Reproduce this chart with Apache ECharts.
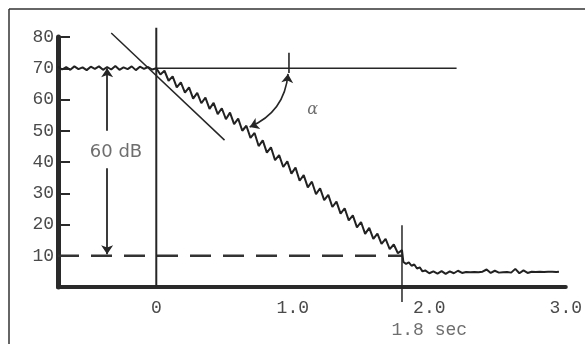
<!DOCTYPE html>
<html><head><meta charset="utf-8">
<script src="https://cdn.jsdelivr.net/npm/echarts@6/dist/echarts.min.js"></script>
<style>html,body{margin:0;padding:0;background:#fff}#c{width:585px;height:344px}</style>
</head><body><div id="c"></div>
<script>
// ---- data (time in seconds, level in dB) ----
const yTickValues = [10, 20, 30, 40, 50, 60, 70, 80];
const xTickValues = [0, 1, 2, 3];

const levelBefore = [
  [-0.72,70.5],[-0.69,69.6],[-0.66,70.4],[-0.63,69.5],[-0.60,70.6],[-0.57,69.7],[-0.54,70.3],
  [-0.51,69.4],[-0.48,70.5],[-0.45,69.8],[-0.42,70.6],[-0.39,69.5],[-0.36,70.4],[-0.33,69.6],
  [-0.30,70.7],[-0.27,69.5],[-0.24,70.3],[-0.21,69.7],[-0.18,70.6],[-0.15,69.4],[-0.12,70.5],
  [-0.09,69.8],[-0.06,70.4],[-0.03,69.6],[0.00,70.0]
];
const levelDecay = [
  [0.03,68.0],[0.06,69.2],[0.09,66.0],[0.12,67.4],[0.15,63.9],[0.18,65.5],[0.21,62.2],[0.24,63.9],
  [0.27,60.3],[0.30,62.1],[0.33,58.8],[0.36,60.6],[0.39,57.0],[0.42,58.9],[0.45,55.3],[0.48,57.2],
  [0.51,53.7],[0.54,55.8],[0.57,52.1],[0.60,53.9],[0.63,50.0],[0.66,51.6],[0.69,47.7],[0.72,49.3],
  [0.75,45.1],[0.78,46.9],[0.81,43.0],[0.84,44.7],[0.87,40.6],[0.90,42.2],[0.93,38.4],[0.96,40.2],
  [0.99,36.3],[1.02,38.2],[1.05,34.0],[1.08,35.8],[1.11,31.9],[1.14,33.7],[1.17,29.7],[1.20,31.6],
  [1.23,27.8],[1.26,29.5],[1.29,25.6],[1.32,27.3],[1.35,23.5],[1.38,25.2],[1.41,21.3],[1.44,22.9],
  [1.47,19.1],[1.50,20.8],[1.53,17.0],[1.56,18.9],[1.59,15.4],[1.62,17.1],[1.65,13.8],[1.68,15.4],
  [1.71,12.1],[1.74,13.6],[1.77,10.8],[1.80,11.8]
];
const levelFloor = [
  [1.81,8.0],[1.83,7.4],[1.85,7.9],[1.87,6.8],[1.89,7.2],[1.91,5.9],[1.93,6.3],[1.95,5.0],
  [1.97,5.3],[2.00,4.4],[2.03,5.0],[2.06,4.3],[2.09,5.1],[2.12,4.2],[2.15,5.0],[2.18,4.4],
  [2.21,5.2],[2.24,4.5],[2.27,4.8],[2.30,4.7],[2.33,4.8],[2.36,4.7],[2.39,4.9],[2.42,5.6],
  [2.45,4.5],[2.48,5.2],[2.51,4.6],[2.54,4.7],[2.57,4.8],[2.60,4.6],[2.63,5.8],[2.66,4.4],
  [2.69,5.3],[2.72,4.5],[2.75,4.9],[2.78,4.8],[2.81,4.9],[2.84,4.8],[2.87,4.9],[2.90,4.9],
  [2.93,4.8],[2.95,4.9]
];

const startLevel = 70;        // dB
const endLevel = 10;          // dB (60 dB below)
const decayEnd = 1.8;         // sec
const refLineEnd = 2.2;       // sec, end of 70 dB reference line
const zeroLineTop = 83;       // dB
const decayLineSpan = [19.8, -4.8];
const tangentLine = [[-0.33, 81.3], [0.50, 47.0]];
const arcEnds = [[0.684, 51.2], [0.965, 68.2]];
const arcTick = [[0.972, 68.5], [0.972, 75.0]];
const dbArrowTime = -0.36;
const dbArrowUpper = [50, 70];
const dbArrowLower = [38, 10.5];
const annotations = [
  { name: '60 dB', value: [-0.295, 43.2], font: 'DejaVu Sans', size: 18, style: 'normal' },
  { name: 'α', value: [1.145, 56.6], font: 'DejaVu Serif', size: 16, style: 'italic' },
  { name: '1.8 sec', value: [2.0, -13.8], font: 'Liberation Mono', size: 18, style: 'normal' }
];

// ---- chart ----
const ink = '#262626';
const textGray = '#4a4a4a';
const chart = echarts.init(document.getElementById('c'), null, { renderer: 'canvas' });

chart.setOption({
  animation: false,
  backgroundColor: '#fff',
  grid: { left: 58, right: 10, top: 37, bottom: 57, containLabel: false },
  xAxis: {
    type: 'value', min: -0.72, max: 3.0,
    axisLine: { onZero: true, lineStyle: { color: '#2a2a2a', width: 4 } },
    axisTick: { show: false },
    splitLine: { show: false },
    axisLabel: {
      customValues: xTickValues,
      margin: 12,
      color: textGray, fontFamily: 'Liberation Mono', fontSize: 18,
      formatter: v => (v === 0 ? '0' : v.toFixed(1))
    }
  },
  yAxis: {
    type: 'value', min: 0, max: 80, interval: 10,
    axisLine: { show: true, onZero: false, lineStyle: { color: '#2a2a2a', width: 5 } },
    axisTick: { show: true, inside: true, length: 12, lineStyle: { color: '#2a2a2a', width: 2 } },
    splitLine: { show: false },
    axisLabel: {
      showMinLabel: false, margin: 4,
      color: textGray, fontFamily: 'Liberation Mono', fontSize: 18,
      formatter: v => (yTickValues.indexOf(v) >= 0 ? String(v) : '')
    }
  },
  graphic: [
    { type: 'line', shape: { x1: 9, y1: 9, x2: 9, y2: 344 }, style: { stroke: '#333', lineWidth: 1.5 } },
    { type: 'line', shape: { x1: 9, y1: 9, x2: 585, y2: 9 }, style: { stroke: '#333', lineWidth: 1.5 } }
  ],
  series: [
    { // reference line at starting level
      type: 'line', data: [[0, startLevel], [refLineEnd, startLevel]],
      showSymbol: false, lineStyle: { color: ink, width: 1.5 }, z: 2
    },
    { // dashed line at -60 dB
      type: 'line', data: [[-0.72, endLevel], [decayEnd, endLevel]],
      showSymbol: false, lineStyle: { color: '#333', width: 2.5, type: [21, 12] }, z: 2
    },
    { // vertical line at t = 0
      type: 'line', clip: false, data: [[0, 0], [0, zeroLineTop]],
      showSymbol: false, lineStyle: { color: ink, width: 2 }, z: 2
    },
    { // vertical line at t = 1.8 s
      type: 'line', clip: false, data: [[decayEnd, decayLineSpan[0]], [decayEnd, decayLineSpan[1]]],
      showSymbol: false, lineStyle: { color: ink, width: 1.5 }, z: 2
    },
    { // tangent line
      type: 'line', clip: false, data: tangentLine,
      showSymbol: false, lineStyle: { color: ink, width: 1.5 }, z: 2
    },
    { // arc tick above the reference line
      type: 'line', clip: false, data: arcTick,
      showSymbol: false, lineStyle: { color: ink, width: 1.6 }, z: 2
    },
    { // measured level
      type: 'line', clip: false,
      data: levelBefore.concat(levelDecay, levelFloor),
      showSymbol: false, lineStyle: { color: '#222', width: 2 }, z: 3
    },
    { // 60 dB arrows
      type: 'lines', coordinateSystem: 'cartesian2d', clip: false, silent: true,
      symbol: ['none', 'arrow'], symbolSize: 9,
      lineStyle: { color: ink, width: 1.8, opacity: 1, curveness: 0 },
      data: [
        { coords: [[dbArrowTime, dbArrowUpper[0]], [dbArrowTime, dbArrowUpper[1]]] },
        { coords: [[dbArrowTime, dbArrowLower[0]], [dbArrowTime, dbArrowLower[1]]] }
      ], z: 4
    },
    { // angle arc
      type: 'lines', coordinateSystem: 'cartesian2d', clip: false, silent: true,
      symbol: ['arrow', 'arrow'], symbolSize: 9,
      lineStyle: { color: ink, width: 1.6, opacity: 1, curveness: -0.3 },
      data: [{ coords: arcEnds }], z: 4
    },
    { // text annotations
      type: 'scatter', clip: false, symbolSize: 0, z: 5,
      data: annotations.map(a => ({
        name: a.name, value: a.value,
        label: { fontFamily: a.font, fontSize: a.size, fontStyle: a.style }
      })),
      label: {
        show: true, position: 'inside', formatter: p => p.name,
        color: textGray
      }
    }
  ]
});
</script></body></html>
